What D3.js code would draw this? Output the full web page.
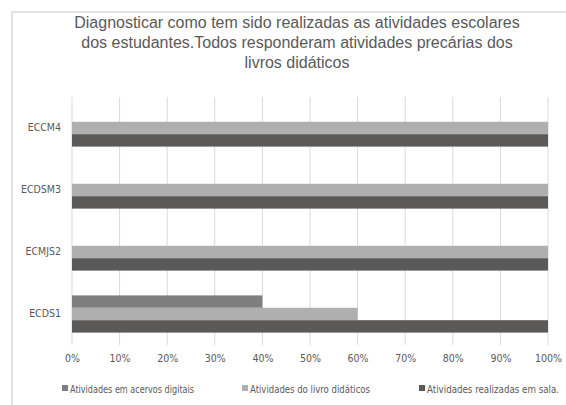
<!DOCTYPE html>
<html>
<head>
<meta charset="utf-8">
<script src="https://cdn.jsdelivr.net/npm/d3@7"></script>
<style>
  body { margin: 0; background: #fff; }
  .lbl { font-family: "DejaVu Sans Condensed", "Open Sans", sans-serif; font-size: 10.5px; fill: #595959; }
</style>
</head>
<body>
<div id="chart"></div>
<script>
// data
var categories = ["ECCM4", "ECDSM3", "ECMJS2", "ECDS1"];
var seriesNames = ["Atividades em acervos digitais", "Atividades do livro didáticos", "Atividades realizadas em sala."];
var digitais = [0, 0, 0, 0.40];
var livro = [1, 1, 1, 0.60];
var sala = [1, 1, 1, 1];
var ticks = [0, 0.1, 0.2, 0.3, 0.4, 0.5, 0.6, 0.7, 0.8, 0.9, 1];
var colors = ["#7f7f7f", "#afafaf", "#5b5858"];

var W = 566, H = 405;
var margin = {top: 97, right: 18, bottom: 60, left: 72},
    width = W - margin.left - margin.right,
    height = H - margin.top - margin.bottom;

var svg = d3.select("#chart").append("svg")
    .attr("width", W).attr("height", H);

// outer border
svg.append("rect")
    .attr("x", 12).attr("y", 12)
    .attr("width", W + 10).attr("height", H + 10)
    .attr("fill", "none").attr("stroke", "#d9d9d9").attr("stroke-width", 1.5);

// title
var title = ["Diagnosticar como tem sido realizadas as atividades escolares",
             "dos estudantes.Todos responderam atividades precárias dos",
             "livros didáticos"];
svg.append("text")
    .attr("text-anchor", "middle")
    .style("font-family", "'Liberation Sans', Arial, sans-serif")
    .style("font-size", "16px")
    .style("fill", "#595959")
    .selectAll("tspan").data(title).enter().append("tspan")
    .attr("x", 297).attr("y", function(d, i) { return 28 + i * 20; })
    .text(function(d) { return d; });

var g = svg.append("g")
    .attr("transform", "translate(" + margin.left + "," + margin.top + ")");

var x = d3.scaleLinear().domain([0, 1]).range([0, width]);
var y = d3.scaleBand().domain(categories).range([0, height]).paddingInner(0.4).paddingOuter(0.2);
var ys = d3.scaleBand().domain([0, 1, 2]).range([0, y.bandwidth()]);

// gridlines
g.selectAll(".grid").data(ticks).enter().append("line")
    .attr("x1", function(d) { return x(d); })
    .attr("x2", function(d) { return x(d); })
    .attr("y1", 0).attr("y2", height)
    .attr("stroke", "#d9d9d9").attr("stroke-width", 1);

// bars
var series = [digitais, livro, sala];
series.forEach(function(vals, s) {
  g.selectAll(".bar" + s)
      .data(categories).enter().append("rect")
      .attr("x", 0)
      .attr("y", function(d) { return y(d) + ys(s); })
      .attr("width", function(d, i) { return x(vals[i]); })
      .attr("height", ys.bandwidth())
      .attr("fill", colors[s]);
});

// x axis
var xAxis = g.append("g")
    .attr("transform", "translate(0," + height + ")")
    .call(d3.axisBottom(x).tickValues(ticks).tickFormat(d3.format(".0%")).tickSize(0).tickPadding(10));
xAxis.select(".domain").remove();
xAxis.selectAll("text").attr("class", "lbl").attr("fill", null);

// y axis
var yAxis = g.append("g")
    .call(d3.axisLeft(y).tickSize(0).tickPadding(11));
yAxis.select(".domain").remove();
yAxis.selectAll("text").attr("class", "lbl").attr("fill", null);

// legend
var legX = [62, 242, 419];
var legW = [124, 120, 132];
var leg = svg.selectAll(".leg").data(seriesNames).enter().append("g")
    .attr("transform", function(d, i) { return "translate(" + legX[i] + ",389)"; });
leg.append("rect")
    .attr("x", 0).attr("y", -4).attr("width", 6).attr("height", 6)
    .attr("fill", function(d, i) { return colors[i]; });
leg.append("text")
    .attr("class", "lbl")
    .style("font-size", "10px")
    .attr("x", 8).attr("y", 3.5)
    .attr("textLength", function(d, i) { return legW[i]; })
    .attr("lengthAdjust", "spacingAndGlyphs")
    .text(function(d) { return d; });
</script>
</body>
</html>
